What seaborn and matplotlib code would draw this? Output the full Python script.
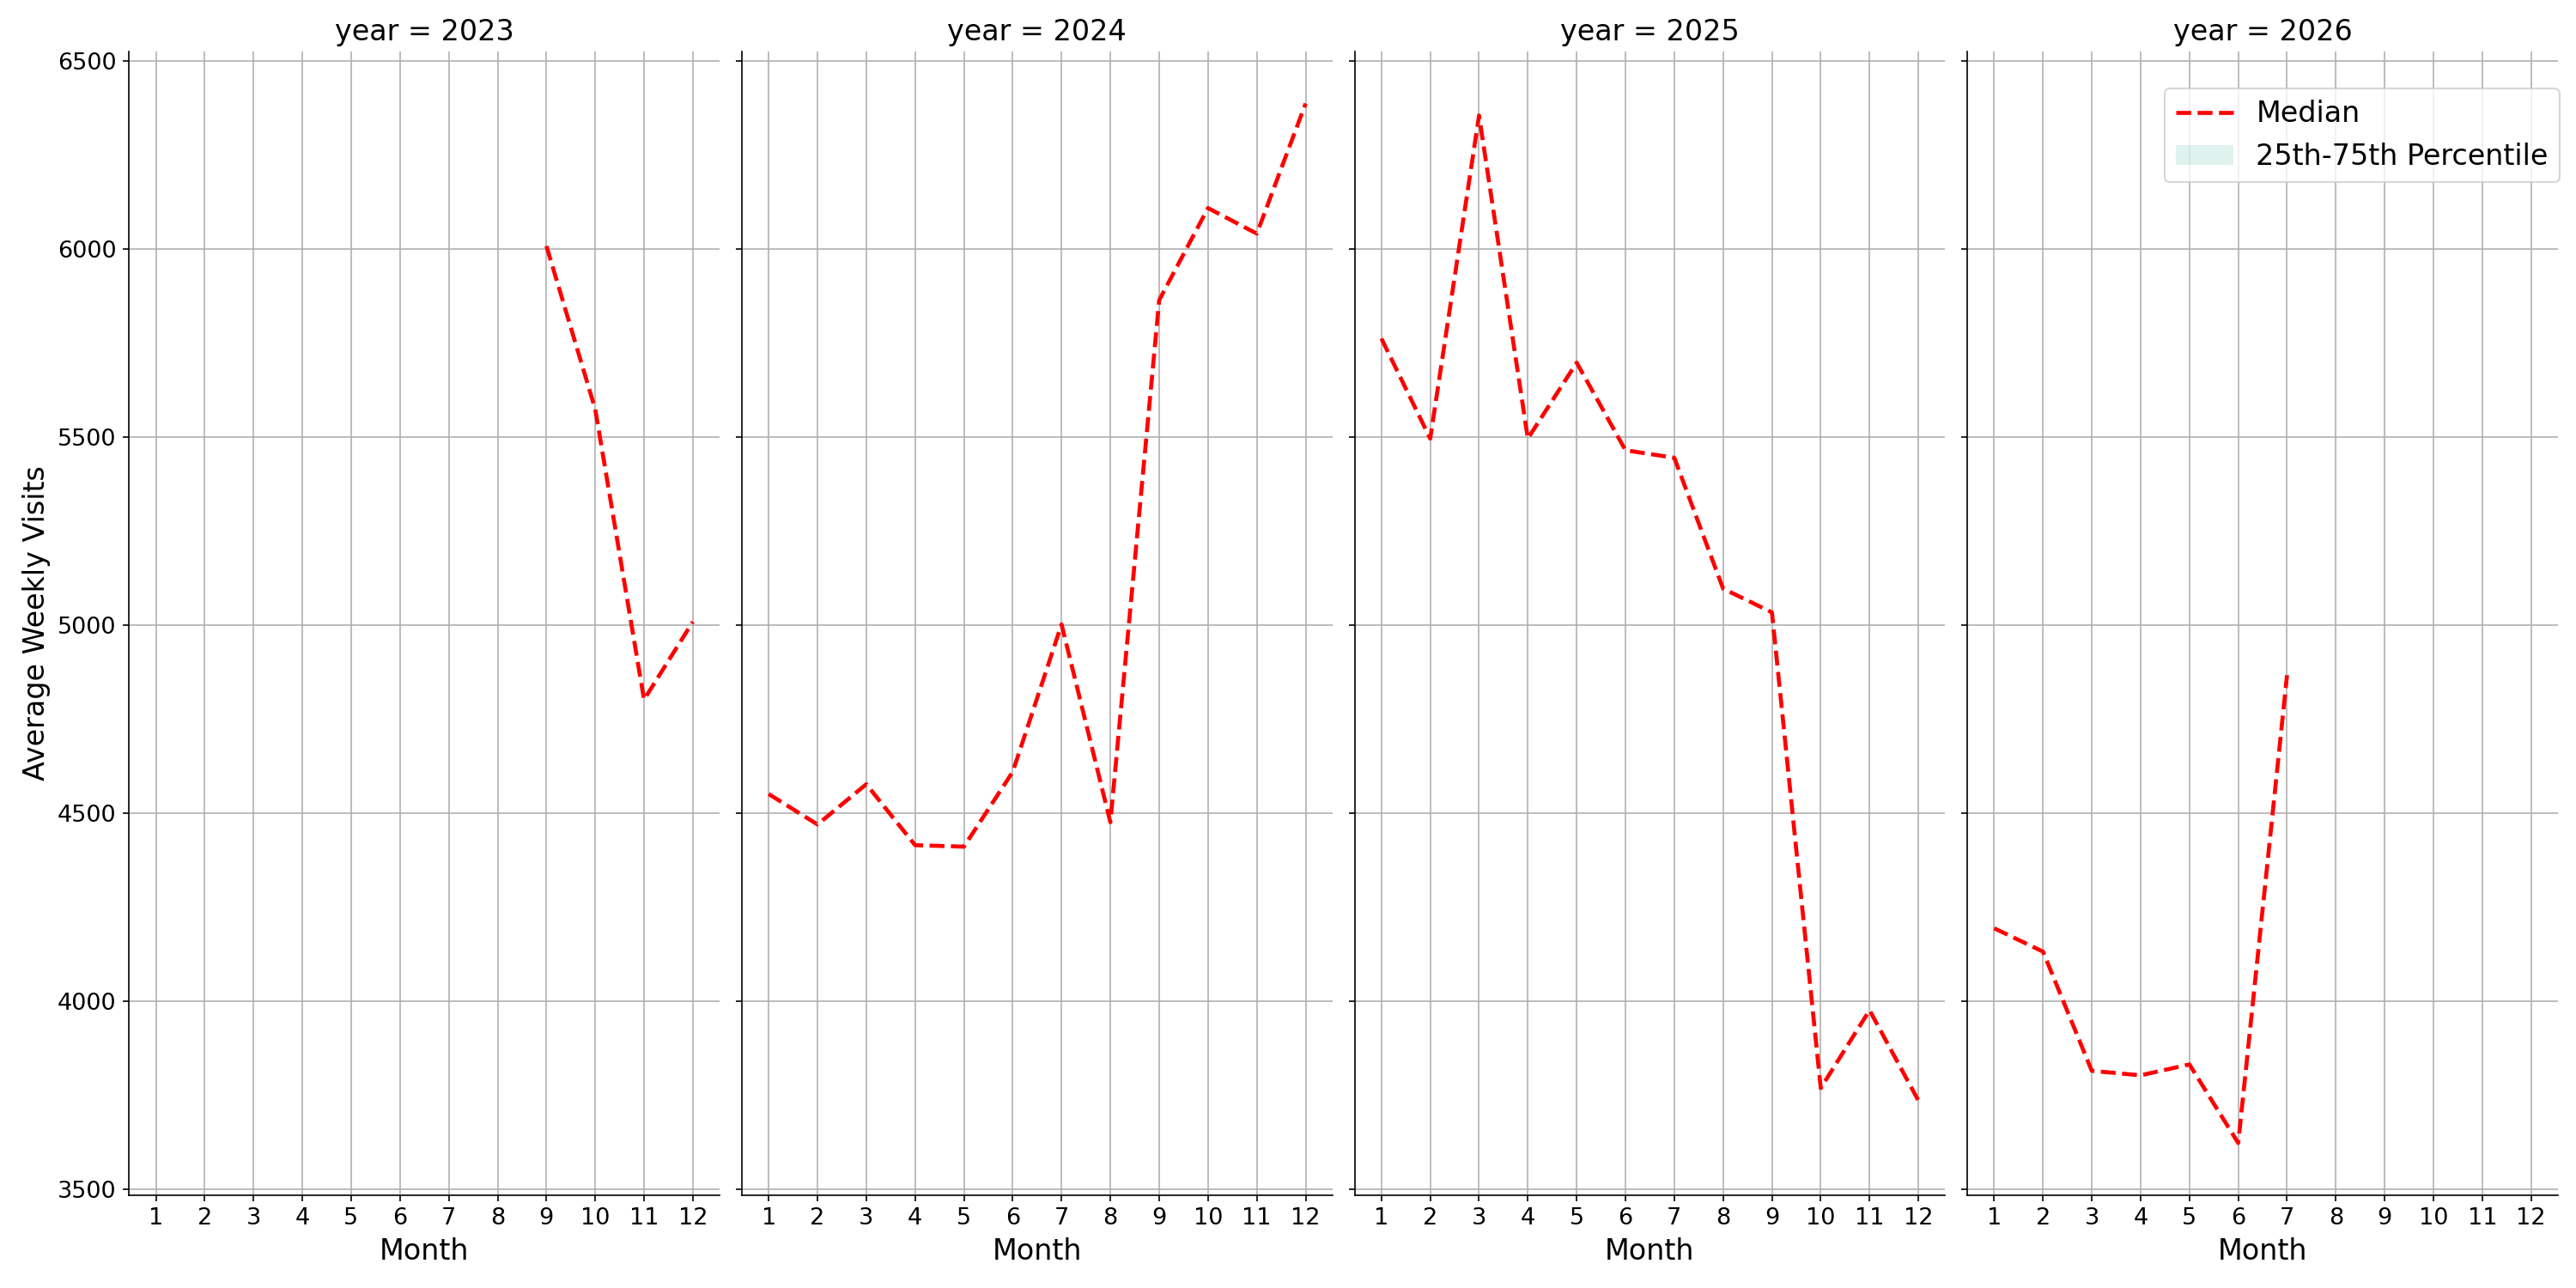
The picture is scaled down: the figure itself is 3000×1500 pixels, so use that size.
import pandas as pd
import seaborn as sns
import matplotlib.pyplot as plt
from matplotlib.patches import Patch
from matplotlib.lines import Line2D

# monthly medians per year
months_2023 = [9, 10, 11, 12]
median_2023 = [6009, 5575, 4803, 5010]

months_2024 = [1, 2, 3, 4, 5, 6, 7, 8, 9, 10, 11, 12]
median_2024 = [4552, 4471, 4578, 4416, 4412, 4611, 5003, 4477, 5865, 6110, 6042, 6388]

months_2025 = [1, 2, 3, 4, 5, 6, 7, 8, 9, 10, 11, 12]
median_2025 = [5763, 5497, 6356, 5497, 5699, 5466, 5446, 5098, 5035, 3770, 3977, 3737]

months_2026 = [1, 2, 3, 4, 5, 6, 7]
median_2026 = [4195, 4133, 3816, 3804, 3833, 3624, 4868]

years = [2023, 2024, 2025, 2026]
month_ticks = list(range(1, 13))

band_color = sns.color_palette("Set2")[0]

# build a long table; the percentile band collapses onto the median in the source
frames = []
for yr, m, v in zip(years,
                    [months_2023, months_2024, months_2025, months_2026],
                    [median_2023, median_2024, median_2025, median_2026]):
    frames.append(pd.DataFrame({"year": yr, "month": m, "median": v, "p25": v, "p75": v}))
df = pd.concat(frames, ignore_index=True)

plt.rcParams["xtick.labelsize"] = 13
plt.rcParams["ytick.labelsize"] = 13
plt.rcParams["axes.labelsize"] = 16
plt.rcParams["axes.titlesize"] = 16
plt.rcParams["legend.fontsize"] = 16


def draw(data, **kws):
    ax = plt.gca()
    ax.fill_between(data["month"], data["p25"], data["p75"],
                    color=band_color, alpha=0.2, linewidth=0)
    sns.lineplot(data=data, x="month", y="median", color="red",
                 linestyle="--", linewidth=2.25, legend=False, ax=ax)
    ax.grid(True)


g = sns.FacetGrid(df, col="year", col_order=years, height=10, aspect=0.5,
                  sharex=True, sharey=True)
g.map_dataframe(draw)
g.set_axis_labels("Month", "Average Weekly Visits")
g.set_titles("year = {col_name}")
for ax in g.axes.flat:
    ax.set_xticks(month_ticks)

handles = [Line2D([], [], color="red", linestyle="--", linewidth=2.25),
           Patch(facecolor=band_color, alpha=0.2, linewidth=0)]
g.figure.legend(handles, ["Median", "25th-75th Percentile"],
                loc="upper right", bbox_to_anchor=(0.9937, 0.9313),
                borderaxespad=0)

g.figure.subplots_adjust(left=0.0501, right=0.993, bottom=0.0722, top=0.96,
                         wspace=0.0374)
g.figure.savefig("out.png", dpi=150)
